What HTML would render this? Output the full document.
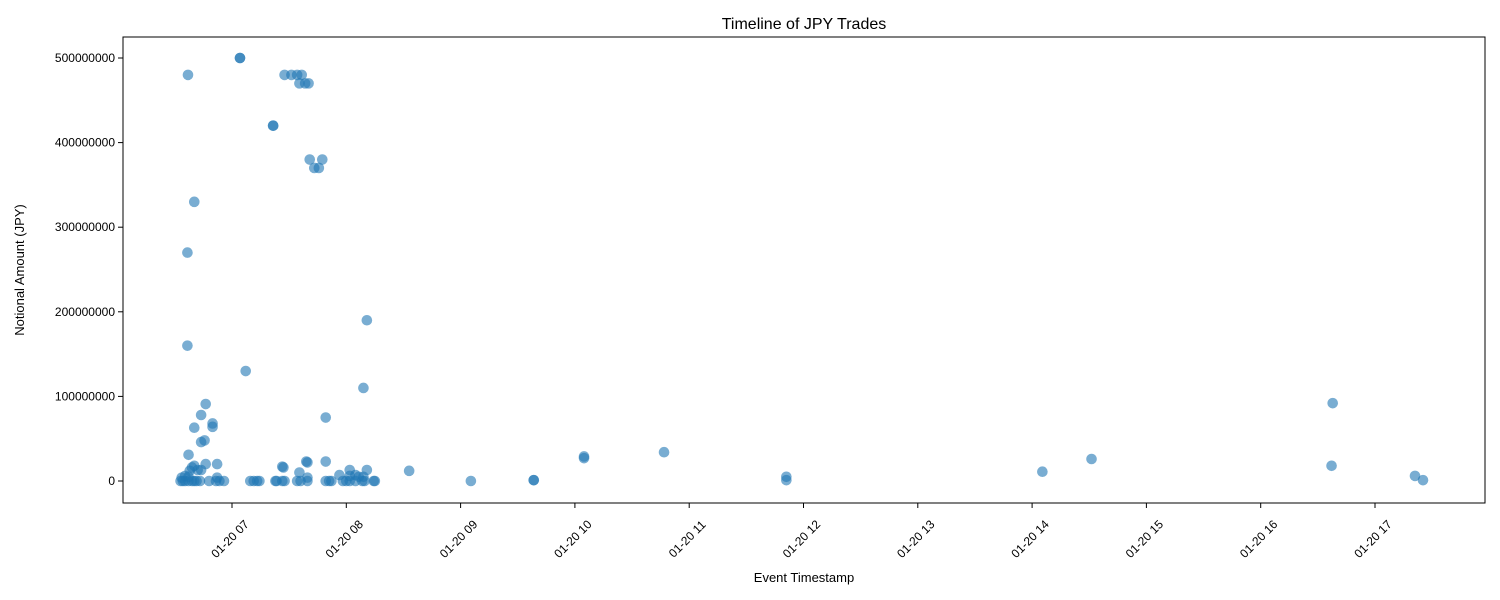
<!DOCTYPE html>
<html><head><meta charset="utf-8"><style>body{margin:0;background:#fff}svg{display:block;font-family:"Liberation Sans","DejaVu Sans",sans-serif}</style></head>
<body>
<svg id="chart" width="1500" height="600">
<rect width="1500" height="600" fill="#fff"/>
<text x="804" y="29" text-anchor="middle" font-size="16">Timeline of JPY Trades</text>
<g id="plot"></g>
<rect x="123" y="37" width="1362" height="466" fill="none" stroke="#000" stroke-width="1"/>
<text x="804" y="582" text-anchor="middle" font-size="13">Event Timestamp</text>
<text transform="translate(24,270) rotate(-90)" text-anchor="middle" font-size="13">Notional Amount (JPY)</text>
</svg>
<script>
const hours = [6.615,7.07,7.07,7.46,7.52,7.57,7.61,7.59,7.64,7.67,7.36,7.36,6.67,6.61,7.68,7.79,7.72,7.76,8.18,6.61,7.12,8.15,6.77,6.73,7.82,6.83,6.83,6.67,6.76,6.73,6.62,10.08,10.08,10.78,14.52,16.63,16.62,14.09,17.35,17.42,11.85,11.85,9.64,9.64,9.09,8.55,6.77,6.87,6.67,6.65,6.73,6.70,6.63,7.66,7.65,7.82,7.44,7.45,7.59,7.94,8.03,8.08,8.11,8.18,8.15,
6.55,6.57,6.59,6.62,6.65,6.67,6.69,6.72,6.80,6.86,6.89,6.93,7.16,7.19,7.22,7.24,7.38,7.39,7.44,7.46,7.57,7.60,7.66,7.82,7.85,7.87,7.97,8.00,8.03,8.08,8.14,8.16,8.24,8.25,6.56,6.59,6.62,6.87,7.66,8.03];
const amounts = [480e6,500e6,500e6,480e6,480e6,480e6,480e6,470e6,470e6,470e6,420e6,420e6,330e6,270e6,380e6,380e6,370e6,370e6,190e6,160e6,130e6,110e6,91e6,78e6,75e6,68e6,64e6,63e6,48e6,46e6,31e6,29e6,27e6,34e6,26e6,92e6,18e6,11e6,6e6,1e6,5e6,1e6,1e6,1e6,0,12e6,20e6,20e6,18e6,16e6,13e6,13e6,12e6,22e6,23e6,23e6,17e6,16e6,10e6,7e6,13e6,7e6,5e6,13e6,5e6,
0,0,0,0,0,0,0,0,0,0,0,0,0,0,0,0,0,0,0,0,0,0,0,0,0,0,0,0,0,0,0,0,0,0,4e6,6e6,5e6,4e6,4e6,6e6];
const yTicks = [0,100000000,200000000,300000000,400000000,500000000];
const xTickHours = [7,8,9,10,11,12,13,14,15,16,17];
const xTickLabels = ["01-20 07","01-20 08","01-20 09","01-20 10","01-20 11","01-20 12","01-20 13","01-20 14","01-20 15","01-20 16","01-20 17"];
const NS="http://www.w3.org/2000/svg";
const xs=h=>232+(h-7)*114.3;
const ys=v=>481-v/5e8*423;
const g=document.getElementById('plot');
function mk(t,a){const e=document.createElementNS(NS,t);for(const k in a)e.setAttribute(k,a[k]);g.appendChild(e);return e;}
yTicks.forEach(v=>{
  const y=ys(v);
  const l=mk('line',{x1:118,x2:123,y1:y,y2:y,stroke:'#000'});
  
  
  const t=mk('text',{x:115,y:y+4,'text-anchor':'end','font-size':12});
  
  
  t.textContent=String(v);
});
xTickHours.forEach((h,i)=>{
  const x=xs(h);
  const l=mk('line',{x1:x,x2:x,y1:503,y2:508,stroke:'#000'});
  
  
  const t=mk('text',{transform:`translate(${x-2},${539}) rotate(-45)`,'text-anchor':'middle','font-size':12,dy:4});
  
  
  t.textContent=xTickLabels[i];
});
hours.forEach((h,i)=>{
  const c=mk('circle',{cx:xs(h),cy:ys(amounts[i]),r:5.3,fill:'#1f77b4','fill-opacity':0.6});
  
  
});
</script>
</body></html>
